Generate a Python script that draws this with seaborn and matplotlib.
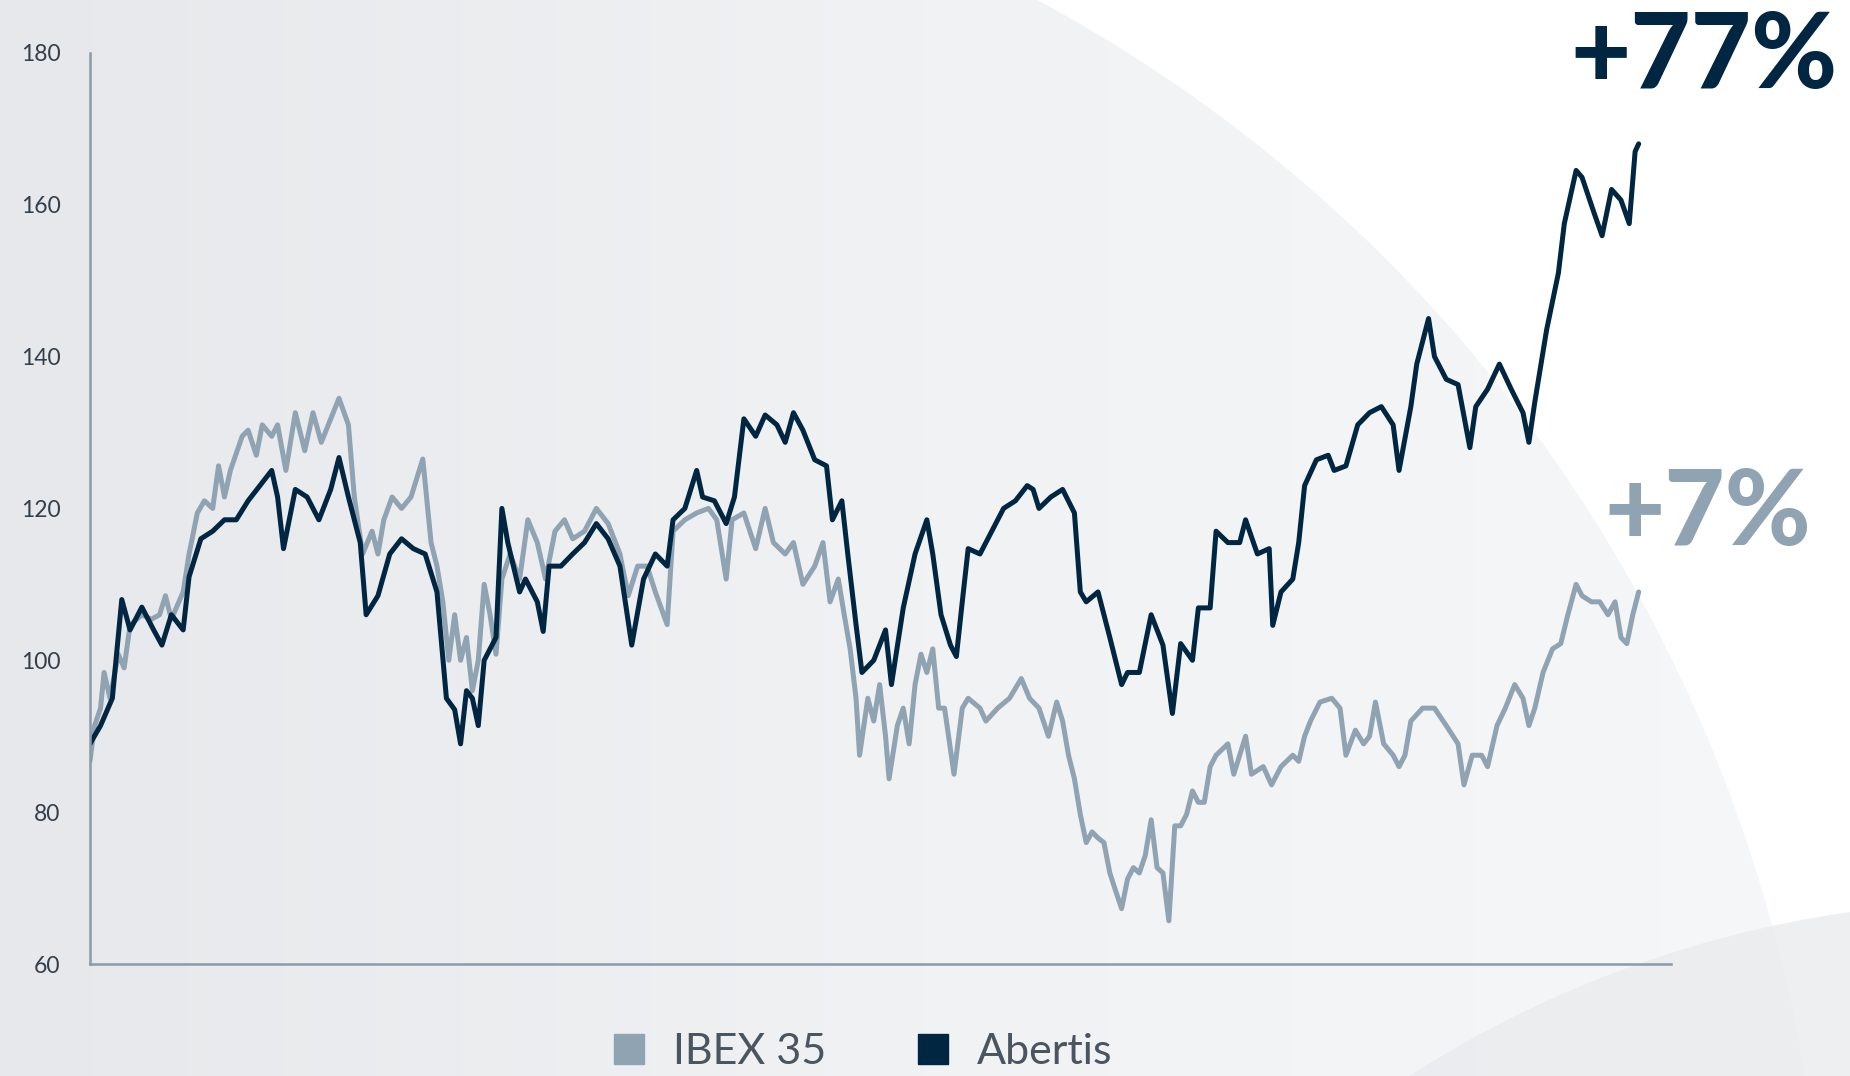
import numpy as np
import pandas as pd
import matplotlib
matplotlib.use("Agg")
import matplotlib.pyplot as plt
from matplotlib.colors import LinearSegmentedColormap
from matplotlib.lines import Line2D
from matplotlib.patches import Circle
import seaborn as sns

# evolucion bursatil (base ~100), sesiones aproximadas
abertis_dia = [0, 9, 19, 27, 34, 44, 54, 61, 69, 79, 84, 94, 104, 114, 124, 134, 144, 154,
               159, 164, 174, 184, 194, 204, 211, 219, 229, 234, 244, 254, 264, 274, 284,
               294, 302, 309, 314, 319, 324, 329, 334, 344, 349, 354, 364, 369, 379, 384,
               389, 399, 409, 419, 429, 439, 449, 459, 469, 479, 489, 494, 504, 514, 519,
               529, 539, 546, 554, 564, 572, 582, 589, 596, 604, 614, 624, 629, 637, 642,
               649, 654, 664, 674, 679, 689, 699, 709, 714, 721, 729, 734, 739, 744, 754,
               764, 774, 784, 794, 799, 804, 814, 824, 834, 839, 844, 854, 864, 874, 879,
               889, 899, 909, 917, 924, 934, 939, 949, 954, 964, 974, 979, 989, 999, 1002,
               1009, 1019, 1024, 1029, 1039, 1049, 1054, 1064, 1074, 1084, 1094, 1104,
               1109, 1119, 1124, 1134, 1139, 1149, 1159, 1169, 1174, 1184, 1194, 1204,
               1214, 1219, 1224, 1234, 1244, 1249, 1259, 1264, 1274, 1281, 1289, 1297,
               1304, 1309, 1312]
abertis_valor = [89.0, 91.4, 95.0, 108.0, 104.0, 107.0, 104.0, 102.0, 106.0, 104.0, 111.0,
                 116.0, 117.0, 118.5, 118.5, 121.0, 123.0, 125.0, 121.5, 114.7, 122.5,
                 121.5, 118.5, 122.5, 126.7, 121.5, 115.5, 106.0, 108.5, 114.0, 116.0,
                 114.7, 114.0, 109.0, 95.0, 93.5, 89.0, 96.0, 95.0, 91.4, 100.0, 103.0,
                 120.0, 115.5, 109.0, 110.7, 107.7, 103.8, 112.4, 112.4, 114.0, 115.5,
                 118.0, 116.0, 112.4, 102.0, 110.7, 114.0, 112.4, 118.5, 120.0, 125.0,
                 121.5, 121.0, 118.0, 121.5, 131.8, 129.5, 132.3, 131.0, 128.7, 132.6,
                 130.3, 126.4, 125.6, 118.5, 121.0, 114.0, 104.7, 98.4, 100.0, 104.0,
                 96.8, 106.9, 114.0, 118.5, 114.0, 106.0, 102.0, 100.5, 107.7, 114.7,
                 114.0, 117.0, 120.0, 121.0, 123.0, 122.5, 120.0, 121.5, 122.5, 119.4,
                 109.0, 107.7, 109.0, 103.0, 96.8, 98.4, 98.4, 106.0, 102.0, 93.0, 102.2,
                 100.0, 106.9, 106.9, 117.0, 115.5, 115.5, 118.5, 114.0, 114.7, 104.6,
                 109.0, 110.7, 115.5, 123.0, 126.4, 127.0, 125.0, 125.6, 131.0, 132.6,
                 133.4, 131.0, 125.0, 133.4, 139.0, 145.0, 140.0, 137.0, 136.3, 128.0,
                 133.4, 135.7, 139.0, 135.7, 132.6, 128.7, 134.0, 143.5, 151.0, 157.5,
                 164.5, 163.6, 159.0, 155.9, 162.0, 160.6, 157.5, 167.0, 168.0]

ibex_dia = [0, 4, 9, 12, 17, 24, 29, 34, 44, 52, 59, 64, 69, 79, 84, 91, 97, 104, 109, 114,
            119, 129, 134, 141, 146, 154, 159, 166, 174, 182, 189, 196, 204, 211, 219, 224,
            231, 239, 244, 249, 256, 264, 272, 279, 282, 289, 294, 299, 304, 309, 314, 319,
            324, 329, 334, 339, 344, 349, 356, 364, 371, 379, 386, 394, 402, 409, 419, 429,
            439, 449, 456, 464, 472, 479, 489, 494, 504, 514, 524, 531, 539, 544, 554, 564,
            572, 579, 589, 596, 604, 614, 621, 627, 634, 639, 644, 649, 652, 659, 664, 669,
            674, 677, 684, 689, 694, 699, 704, 709, 714, 719, 724, 732, 739, 744, 754, 759,
            769, 779, 789, 796, 804, 812, 819, 824, 829, 834, 839, 844, 849, 854, 859, 864,
            869, 874, 879, 884, 889, 894, 899, 904, 909, 914, 919, 924, 929, 934, 939, 944,
            949, 954, 964, 969, 979, 984, 994, 1001, 1009, 1019, 1024, 1029, 1034, 1042,
            1052, 1059, 1064, 1072, 1079, 1084, 1089, 1096, 1104, 1109, 1114, 1119, 1129,
            1139, 1149, 1159, 1164, 1171, 1179, 1184, 1192, 1199, 1207, 1214, 1219, 1224,
            1231, 1239, 1246, 1252, 1259, 1264, 1272, 1279, 1286, 1292, 1297, 1302, 1307,
            1312]
ibex_valor = [86.7, 91.4, 93.7, 98.4, 95.0, 100.8, 99.0, 104.6, 106.0, 105.4, 106.0, 108.5,
              105.4, 109.0, 114.0, 119.4, 121.0, 120.0, 125.6, 121.5, 125.0, 129.5, 130.3,
              127.0, 131.0, 129.5, 131.0, 125.0, 132.6, 127.6, 132.6, 128.7, 131.8, 134.5,
              131.0, 121.5, 114.0, 117.0, 114.0, 118.5, 121.5, 120.0, 121.5, 125.0, 126.5,
              115.5, 112.4, 107.7, 100.0, 106.0, 100.0, 103.0, 96.0, 100.0, 110.0, 106.0,
              100.8, 110.7, 114.0, 110.7, 118.5, 115.5, 110.7, 117.0, 118.5, 116.0, 117.0,
              120.0, 118.0, 114.0, 108.5, 112.4, 112.4, 109.0, 104.7, 117.0, 118.5, 119.4,
              120.0, 118.5, 110.7, 118.5, 119.4, 114.7, 120.0, 115.5, 114.0, 115.5, 110.0,
              112.4, 115.5, 107.7, 110.7, 106.0, 101.5, 95.0, 87.5, 95.0, 92.0, 96.8, 90.0,
              84.4, 91.4, 93.7, 89.0, 96.8, 100.8, 98.4, 101.5, 93.7, 93.7, 85.0, 93.7,
              95.0, 93.7, 92.0, 93.7, 95.0, 97.6, 95.0, 93.7, 90.0, 94.5, 92.0, 87.5, 84.4,
              79.7, 76.0, 77.4, 76.6, 76.0, 72.0, 69.6, 67.3, 71.2, 72.7, 72.0, 74.3, 79.0,
              72.7, 72.0, 65.7, 78.2, 78.2, 79.7, 82.8, 81.3, 81.3, 86.0, 87.5, 89.0, 85.0,
              90.0, 85.0, 86.0, 83.6, 86.0, 87.5, 86.7, 90.0, 92.0, 94.5, 95.0, 93.7, 87.5,
              90.8, 89.0, 90.0, 94.5, 89.0, 87.5, 86.0, 87.5, 92.0, 93.7, 93.7, 91.4, 89.0,
              83.6, 87.5, 87.5, 86.0, 91.4, 93.7, 96.8, 95.0, 91.4, 93.7, 98.4, 101.5,
              102.2, 106.0, 110.0, 108.5, 107.7, 107.7, 106.0, 107.7, 103.0, 102.2, 106.0,
              109.0]

series = ["IBEX 35", "Abertis"]
cambio_txt = ["+7%", "+77%"]
yticks = [60, 80, 100, 120, 140, 160, 180]

c_ibex = "#8FA3B2"
c_abertis = "#002641"
pal = {"IBEX 35": c_ibex, "Abertis": c_abertis}

df = pd.concat([
    pd.DataFrame({"dia": ibex_dia, "valor": ibex_valor, "serie": "IBEX 35"}),
    pd.DataFrame({"dia": abertis_dia, "valor": abertis_valor, "serie": "Abertis"}),
], ignore_index=True)

sns.set_theme(style="white")
plt.rcParams['font.family'] = ['Lato', 'DejaVu Sans']

fig = plt.figure(figsize=(18.5, 10.76), dpi=100)
fig.patch.set_facecolor("white")

# fondo: degradado gris dentro de un gran arco, blanco fuera
bg = fig.add_axes([0, 0, 1, 1], zorder=-5)
bg.set_xlim(0, 1850)
bg.set_ylim(0, 1076)
bg.axis("off")
cmap_bg = LinearSegmentedColormap.from_list("bg", ["#E6E8EB", "#F1F2F4", "#F6F7F8"])
grad = np.tile(np.linspace(0, 1, 256), (2, 1))
im = bg.imshow(grad, cmap=cmap_bg, extent=(0, 1850, 0, 1076), aspect="auto")
arco = Circle((330, -240), 1494, transform=bg.transData, facecolor="none", edgecolor="none")
bg.add_patch(arco)
im.set_clip_path(arco)
bg.add_patch(Circle((2006, -930), 1105, facecolor="#E9EBEE", edgecolor="none", alpha=0.8))

ax = fig.add_axes([0.0486, 0.104, 0.8544, 0.847])
ax.patch.set_alpha(0)
sns.lineplot(data=df, x="dia", y="valor", hue="serie", palette=pal, hue_order=series,
             estimator=None, sort=True, linewidth=3.6, ax=ax, legend=False)

ax.set_xlim(0, 1339)
ax.set_ylim(60, 180)
ax.set_yticks(yticks)
ax.set_xticks([])
ax.set_xlabel("")
ax.set_ylabel("")
for s in ["top", "right"]:
    ax.spines[s].set_visible(False)
for s in ["left", "bottom"]:
    ax.spines[s].set_color("#8C9AA7")
    ax.spines[s].set_linewidth(1.8)
ax.tick_params(axis="y", length=0, pad=21, labelsize=16.5, labelcolor="#333F4B")

# variaciones del periodo
fig.text(0.9935, 0.918, cambio_txt[1], ha="right", va="baseline", fontsize=75,
         fontweight="black", color=c_abertis)
fig.text(0.979, 0.4935, cambio_txt[0], ha="right", va="baseline", fontsize=75,
         fontweight="black", color=c_ibex)

handles = [Line2D([], [], linestyle="none", marker="s", markersize=22,
                  markerfacecolor=pal[s], markeredgecolor=pal[s]) for s in series]
leg = fig.legend(handles, series, loc="center", bbox_to_anchor=(0.466, 0.022), ncol=2,
                 frameon=False, fontsize=31, handletextpad=0.6, columnspacing=2.1,
                 handlelength=0.8)
for t in leg.get_texts():
    t.set_color("#4A5560")
    t.set_fontweight("normal")

fig.savefig("out.png", dpi=100, facecolor=fig.get_facecolor())
